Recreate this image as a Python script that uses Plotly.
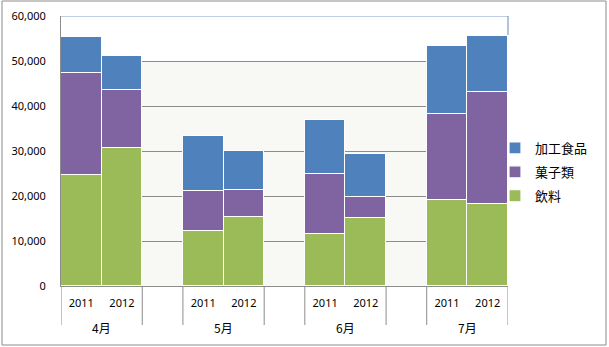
import plotly.graph_objects as go

months = ["4月", "5月", "6月", "7月"]
years = ["2011", "2012"]
series_names = ["飲料", "菓子類", "加工食品"]
inryo = [24700, 30700, 12200, 15300, 11600, 15100, 19100, 18200]
kashi = [22600, 12900, 8900, 6000, 13300, 4700, 19100, 24900]
kakou = [8000, 7500, 12200, 8700, 12000, 9500, 15100, 12500]
colors = ["#9bbb59", "#8064a2", "#4f81bd"]
y_ticks = [0, 10000, 20000, 30000, 40000, 50000, 60000]

# slot positions: two years per month, one empty slot between months
xpos, xlab = [], []
month_centers = []
for i, m in enumerate(months):
    base = 3 * i
    for j, yv in enumerate(years):
        xpos.append(base + j)
        xlab.append(yv)
    month_centers.append(base + 0.5)
n_slots = 3 * len(months) - 1

W, H = 609, 347
ML, MR, MT, MB = 61, 5, 16, 61
PW = W - ML - MR          # paper width in px
PH = H - MT - MB          # plot height in px
plot_right = 508
dom_r = (plot_right - ML) / PW

def px_x(p):
    return (p - ML) / PW

def px_y(p):
    return (H - MB - p) / PH

fig = go.Figure()
for k, (name, vals, c) in enumerate(zip(series_names, [inryo, kashi, kakou], colors)):
    fig.add_trace(go.Bar(
        x=xpos, y=vals, name=name, legendgroup=name,
        legendrank=1000 - k,
        marker=dict(color=c, line=dict(color="white", width=1.2)),
    ))

fig.update_layout(
    barmode="stack", bargap=0,
    width=W, height=H,
    margin=dict(l=ML, r=MR, t=MT, b=MB),
    paper_bgcolor="white", plot_bgcolor="rgba(0,0,0,0)",
    font=dict(family="Noto Sans, Noto Sans CJK JP", size=11, color="#000"),
    legend=dict(x=px_x(495), y=px_y(172), yanchor="middle", xanchor="left",
                bgcolor="rgba(0,0,0,0)",
                font=dict(family="Noto Sans CJK JP", size=13),
                itemwidth=30, tracegroupgap=4, traceorder="grouped"),
    showlegend=True,
)
fig.update_xaxes(
    domain=[0, dom_r],
    range=[-0.5, n_slots - 0.5], tickvals=xpos, ticktext=xlab,
    showgrid=False, showline=True, linecolor="#8c8c8c", zeroline=False,
    ticks="", ticklabelstandoff=7,
    tickfont=dict(family="Noto Sans", size=11),
)
fig.update_yaxes(
    range=[0, 60000], tickvals=y_ticks, tickformat=",",
    showgrid=True, gridcolor="#8c8c8c", gridwidth=1,
    showline=True, linecolor="#8c8c8c", zeroline=False,
    ticks="", ticklabelstandoff=12,
    tickfont=dict(family="Noto Sans", size=11),
)
for m, cx in zip(months, month_centers):
    fig.add_annotation(x=cx, y=px_y(327), xref="x", yref="paper", text=m,
                       showarrow=False, yanchor="middle",
                       font=dict(family="Noto Sans CJK JP", size=12))
# category dividers below the axis
for i in range(len(months)):
    for b in (3 * i - 0.5, 3 * i + 1.5):
        fig.add_shape(type="line", xref="x", yref="paper", x0=b, x1=b,
                      y0=0, y1=px_y(325), line=dict(color="#8c8c8c", width=1))
# plot area wall fill and top frame
fig.add_shape(type="rect", xref="x domain", yref="y", x0=0, x1=1, y0=0, y1=50000,
              fillcolor="#f8f9f5", line=dict(width=0), layer="below")
fig.add_shape(type="line", xref="x domain", yref="y", x0=0, x1=1, y0=60000, y1=60000,
              line=dict(color="#7f9cc4", width=1.2))
fig.add_shape(type="line", xref="x domain", yref="y", x0=1, x1=1, y0=60000, y1=55800,
              line=dict(color="#7f9cc4", width=1.2))
# chart outer border
fig.add_shape(type="rect", xref="paper", yref="paper",
              x0=px_x(2), x1=px_x(606), y0=px_y(345), y1=px_y(1),
              line=dict(color="#8c8c8c", width=1), fillcolor="rgba(0,0,0,0)")

fig.write_html("out.html")
